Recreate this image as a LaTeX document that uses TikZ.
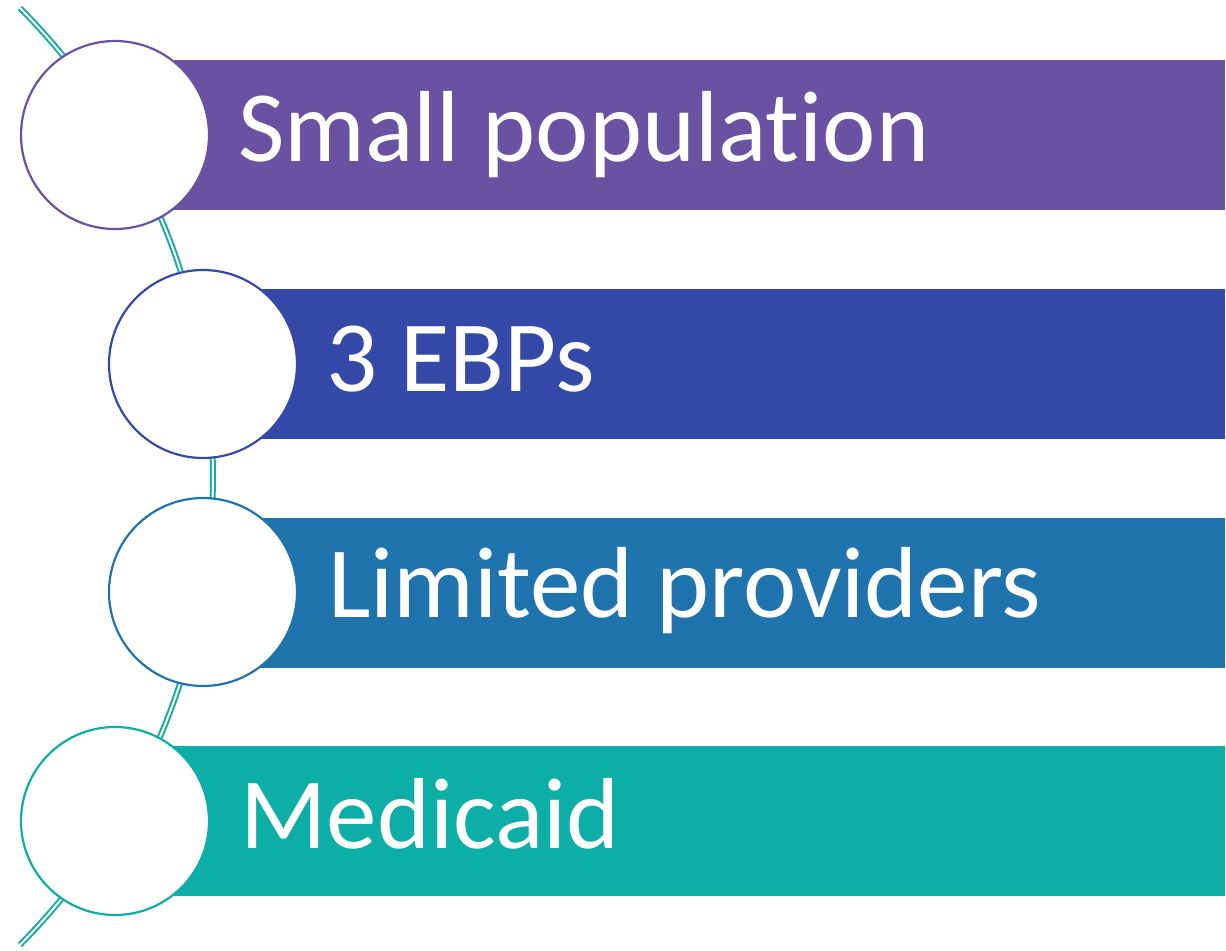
\documentclass[tikz,border=0pt]{standalone}
\usepackage{fontspec}
\setmainfont[Ligatures=CommonOff]{Carlito}
\definecolor{cpurple}{HTML}{6A52A2}
\definecolor{cblue}{HTML}{3549A8}
\definecolor{cmid}{HTML}{1F74AD}
\definecolor{cteal}{HTML}{0CAEA5}
\definecolor{carc}{HTML}{14AC9F}
\begin{document}
\begin{tikzpicture}[x=0.5pt,y=0.5pt,
  bar/.style={rectangle, anchor=north west, inner sep=0pt, minimum height=74.75pt},
  ring/.style={circle, draw, fill=white, line width=1.1pt, minimum size=94pt, inner sep=0pt},
  label/.style={anchor=base west, inner sep=0pt, text=white, font=\fontsize{50.5pt}{60pt}\selectfont}]
\useasboundingbox (0,0) rectangle (1226,950);
% connecting arc
\coordinate (arcstart) at (20,942);
\draw[carc, line width=1pt, double=white, double distance=1pt]
  (arcstart) arc[start angle=44.78, end angle=-44.78, radius=332.5pt] coordinate (arcend);
% bars
\node[bar, fill=cpurple, minimum width=555pt] (b1) at (115,890) {};
\node[bar, fill=cblue,   minimum width=511pt] (b2) at (203,661) {};
\node[bar, fill=cmid,    minimum width=511pt] (b3) at (203,432) {};
\node[bar, fill=cteal,   minimum width=555pt] (b4) at (115,204) {};
% circles
\node[ring, draw=cpurple] (c1) at (115,815) {};
\node[ring, draw=cblue]   (c2) at (203,586) {};
\node[ring, draw=cmid]    (c3) at (203,358) {};
\node[ring, draw=cteal]   (c4) at (115,129) {};
% labels
\node[label] (t1) at (238,788) {Small population};
\node[label] (t2) at (326,559) {3 EBPs};
\node[label] (t3) at (328,333) {Limited providers};
\node[label] (t4) at (240,102) {Medicaid};
\end{tikzpicture}
\end{document}
